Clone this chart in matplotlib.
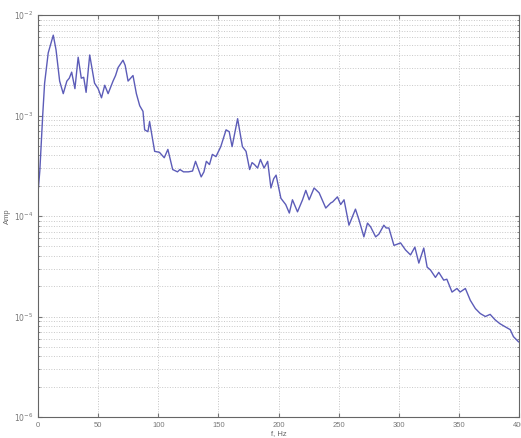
import matplotlib
matplotlib.use("Agg")
import matplotlib.pyplot as plt
from matplotlib.ticker import LogLocator, FixedLocator, NullFormatter

freq = [0, 1.5, 4, 5.5, 8.5, 12.7, 15, 18, 21, 24, 26, 28, 30.7, 33.4, 36, 38, 40, 43, 47, 50,
        52.8, 55.5, 58.3, 62.4, 64.5, 66.6, 70.7, 72.5, 74.9, 79, 81.8, 84.6, 87.3, 88.7, 91.4,
        92.8, 97, 101, 105, 108, 112, 116, 118, 121, 125, 128.5, 131, 135.7, 138, 140, 142.6,
        145, 148, 152, 156.4, 159, 161.4, 166, 170, 173, 176, 178, 180, 182.6, 185, 188, 191,
        193.7, 196, 198, 202, 206, 209, 211.6, 215.8, 220, 222.7, 225.5, 229.6, 233.8, 239.3,
        243.5, 245, 249, 251.7, 254.5, 258.6, 264, 267, 271, 274, 276.6, 280.8, 283.5, 287.6,
        289.5, 291.8, 296, 298, 301.5, 305.6, 309.8, 313.4, 316.7, 320.8, 323.6, 326.4, 330.5,
        333.3, 337.4, 340, 344.3, 348.4, 351, 355.4, 359.5, 363.7, 367.8, 372, 376, 380, 384,
        388.5, 392.7, 395.4, 399.6]
amp = [1.7e-4, 2.8e-4, 1.05e-3, 2.1e-3, 4.2e-3, 6.3e-3, 4.5e-3, 2.2e-3, 1.65e-3, 2.2e-3,
       2.35e-3, 2.7e-3, 1.85e-3, 3.8e-3, 2.35e-3, 2.4e-3, 1.7e-3, 4.0e-3, 2.1e-3, 1.85e-3,
       1.5e-3, 2.0e-3, 1.65e-3, 2.2e-3, 2.5e-3, 3.0e-3, 3.55e-3, 3.15e-3, 2.2e-3, 2.5e-3,
       1.65e-3, 1.25e-3, 1.1e-3, 7.2e-4, 6.9e-4, 8.7e-4, 4.4e-4, 4.3e-4, 3.8e-4, 4.6e-4,
       2.9e-4, 2.75e-4, 2.9e-4, 2.75e-4, 2.75e-4, 2.8e-4, 3.5e-4, 2.45e-4, 2.75e-4, 3.5e-4,
       3.25e-4, 4.1e-4, 3.9e-4, 4.9e-4, 7.2e-4, 6.9e-4, 4.9e-4, 9.3e-4, 4.9e-4, 4.4e-4,
       2.9e-4, 3.4e-4, 3.25e-4, 3.0e-4, 3.65e-4, 3.0e-4, 3.5e-4, 1.9e-4, 2.35e-4, 2.55e-4,
       1.5e-4, 1.3e-4, 1.07e-4, 1.45e-4, 1.1e-4, 1.45e-4, 1.8e-4, 1.45e-4, 1.9e-4, 1.7e-4,
       1.2e-4, 1.35e-4, 1.38e-4, 1.55e-4, 1.3e-4, 1.45e-4, 8.1e-5, 1.17e-4, 9.1e-5, 6.2e-5,
       8.5e-5, 7.8e-5, 6.2e-5, 6.6e-5, 8.1e-5, 7.6e-5, 7.6e-5, 5.1e-5, 5.2e-5, 5.4e-5,
       4.6e-5, 4.1e-5, 4.9e-5, 3.4e-5, 4.8e-5, 3.1e-5, 2.9e-5, 2.45e-5, 2.75e-5, 2.3e-5,
       2.35e-5, 1.75e-5, 1.9e-5, 1.75e-5, 1.9e-5, 1.45e-5, 1.2e-5, 1.07e-5, 1.0e-5, 1.05e-5,
       9.3e-6, 8.5e-6, 7.9e-6, 7.4e-6, 6.3e-6, 5.6e-6]

xticks = [0, 50, 100, 150, 200, 250, 300, 350, 400]
xticklabels = ["0", "50", "100", "150", "200", "250", "300", "350", "400"]
yticks = [1e-6, 1e-5, 1e-4, 1e-3, 1e-2]
yticklabels = [r"$10^{-6}$", r"$10^{-5}$", r"$10^{-4}$", r"$10^{-3}$", r"$10^{-2}$"]

plt.rcParams['font.family'] = ['Liberation Sans', 'DejaVu Sans']
fig = plt.figure(figsize=(5.21, 4.38), dpi=100)
ax = fig.add_axes([38/521, 1 - 417/438, 481/521, (417 - 15)/438])

ax.plot(freq, amp, color='#5c5cb8', lw=1.0)
ax.set_yscale('log')
ax.set_xlim(0, 400)
ax.set_ylim(1e-6, 1e-2)

ax.xaxis.set_major_locator(FixedLocator(xticks))
ax.set_xticklabels(xticklabels)
ax.yaxis.set_major_locator(FixedLocator(yticks))
ax.set_yticklabels(yticklabels)
ax.yaxis.set_minor_locator(LogLocator(base=10, subs=range(2, 10)))
ax.yaxis.set_minor_formatter(NullFormatter())

ax.grid(True, which='major', axis='both', color='#c4c4c4', linestyle=':', linewidth=0.7)
ax.grid(True, which='minor', axis='y', color='#c8c8c8', linestyle=':', linewidth=0.7)

ax.tick_params(which='both', direction='in', top=True, right=True, labelsize=5.5,
               colors='#777777', length=3)
ax.tick_params(which='minor', length=1.5)
for s in ax.spines.values():
    s.set_color('#666666')
    s.set_linewidth(0.8)

ax.set_xlabel('f, Hz', fontsize=5.5, color='#666666', labelpad=1)
ax.set_ylabel('Amp', fontsize=5.5, color='#666666', labelpad=2)

fig.savefig('out.png', dpi=100)
